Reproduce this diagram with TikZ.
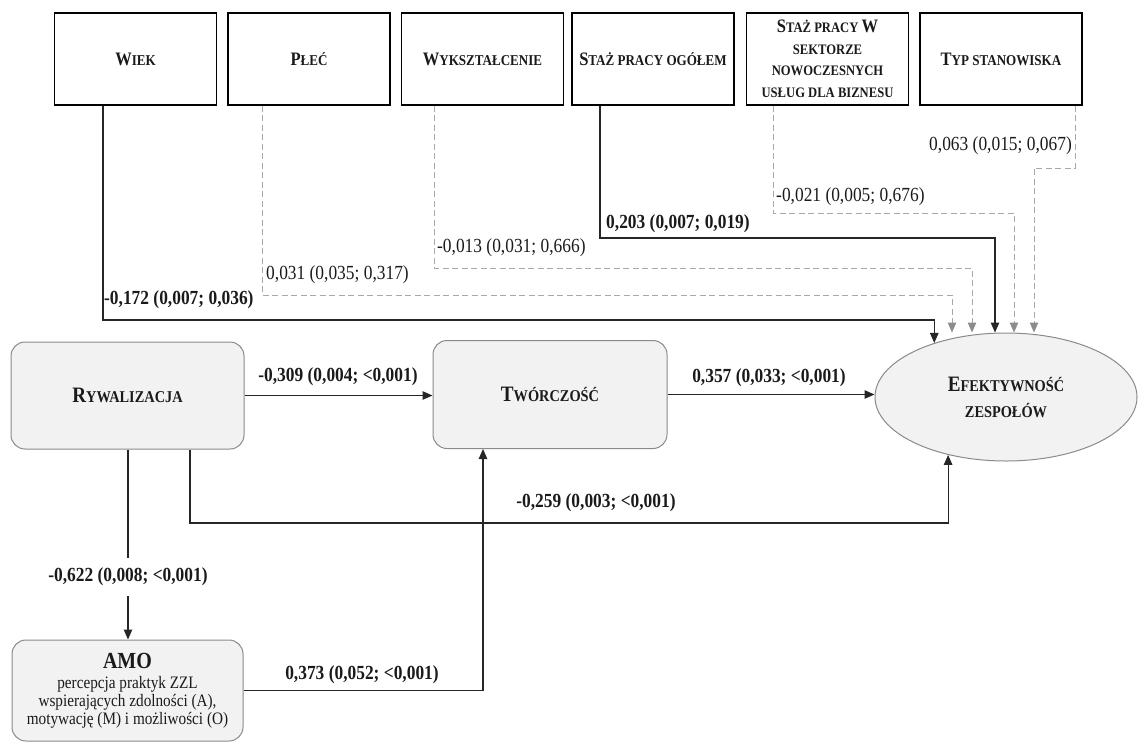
\documentclass[tikz,border=0pt]{standalone}
\usepackage{fontspec}
\setmainfont{Liberation Serif}[FakeStretch=0.87]
\usetikzlibrary{arrows.meta,shapes.geometric}
\definecolor{boxfill}{HTML}{F2F2F2}
\definecolor{rbord}{HTML}{8A8A8A}
\definecolor{dashc}{HTML}{A8A8A8}
\definecolor{dashtip}{HTML}{8C8C8C}
\definecolor{txt}{HTML}{1A1A1A}
\newcommand\capT[1]{{\fontsize{19}{19}\selectfont #1}}
\newcommand\capM[1]{{\fontsize{22}{22}\selectfont #1}}
\begin{document}
\begin{tikzpicture}[x=1pt,y=-1pt,
 topbox/.style={draw=black, line width=1.4pt, fill=white, minimum width=162pt, minimum height=92pt, inner sep=2pt, align=center, text=txt, font=\fontsize{15}{21.5}\selectfont\bfseries},
 rbox/.style={draw=rbord, line width=1pt, fill=boxfill, rounded corners=14pt, align=center, inner sep=2pt, text=txt},
 solidc/.style={draw=black!85, line width=1.1pt, -{Triangle[length=10pt,width=8.5pt]}},
 dashcn/.style={draw=dashc, line width=1pt, dash pattern=on 6pt off 3.5pt, -{Triangle[length=10pt,width=8.5pt,fill=dashtip,color=dashtip]}},
 lbl/.style={font=\fontsize{20}{22}\selectfont, inner sep=1pt, text=txt},
 blbl/.style={font=\fontsize{20}{22}\selectfont\bfseries, inner sep=1pt, text=txt},
]
\useasboundingbox (0,0) rectangle (1138,742);
% top boxes
\node[topbox] (wiek) at (135.5,59) {\capT{W}IEK};
\node[topbox] (plec) at (309,59) {\capT{P}ŁEĆ};
\node[topbox] (wyk) at (482.5,59) {\capT{W}YKSZTAŁCENIE};
\node[topbox] (stazo) at (653,59) {\capT{S}TAŻ PRACY OGÓŁEM};
\node[topbox, font=\fontsize{14.5}{21.5}\selectfont\bfseries] (stazs) at (827.5,59) {\capT{S}TAŻ PRACY \capT{W}\\SEKTORZE\\NOWOCZESNYCH\\USŁUG DLA BIZNESU};
\node[topbox] (typ) at (1001,59) {\capT{T}YP STANOWISKA};
% main nodes
\node[rbox, minimum width=233pt, minimum height=107pt, font=\fontsize{16.5}{26}\selectfont\bfseries] (ryw) at (127.5,395.5) {\capM{R}YWALIZACJA};
\node[rbox, minimum width=234pt, minimum height=108pt, font=\fontsize{16.5}{26}\selectfont\bfseries] (twor) at (550,394.5) {\capM{T}WÓRCZOŚĆ};
\node[draw=rbord, line width=1pt, fill=boxfill, ellipse, minimum width=262pt, minimum height=128pt, inner sep=0pt, align=center, text=txt, font=\fontsize{16.5}{26}\selectfont\bfseries] (eff) at (1006,397) {\capM{E}FEKTYWNOŚĆ\\ZESPOŁÓW};
\node[rbox, minimum width=231pt, minimum height=101pt, font=\fontsize{17.5}{18}\selectfont] (amo) at (127.5,690.5) {{\fontsize{23}{23}\selectfont\bfseries AMO}\\[2pt]percepcja praktyk ZZL\\wspierających zdolności (A),\\motywację (M) i możliwości (O)};
% control variables
\draw[solidc] (wiek.south -| 103,0) -- (103,320) -| (eff.143.4);
\node[blbl, anchor=west] (l1) at (103,300) {-0,172 (0,007; 0,036)};
\draw[dashcn] (plec.south -| 262,0) -- (262,295) -| (eff.north -| 952,0);
\node[lbl, anchor=west] (l2) at (265,275) {0,031 (0,035; 0,317)};
\draw[dashcn] (wyk.south -| 434,0) -- (434,268) -| (eff.north -| 972,0);
\node[lbl, anchor=west] (l3) at (436,248) {-0,013 (0,031; 0,666)};
\draw[solidc] (stazo.south -| 600,0) -- (600,238) -| (eff.north -| 995,0);
\node[blbl, anchor=west] (l4) at (605,224) {0,203 (0,007; 0,019)};
\draw[dashcn] (stazs.south -| 773,0) -- (773,213) -| (eff.north -| 1014,0);
\node[lbl, anchor=west] (l5) at (775,197) {-0,021 (0,005; 0,676)};
\draw[dashcn] (typ.south -| 1075,0) -- (1075,168) -| (eff.north -| 1034,0);
\node[lbl, anchor=east] (l6) at (1073,146) {0,063 (0,015; 0,067)};
% main paths
\draw[solidc] (ryw.east) -- (twor.west |- ryw.east);
\node[blbl] (l7) at (338,377) {-0,309 (0,004; <0,001)};
\draw[solidc] (twor.east) -- (eff.west |- twor.east);
\node[blbl] (l8) at (769,378) {0,357 (0,033; <0,001)};
\draw[solidc] (ryw.south -| 190,0) -- (190,523) -| (eff.225.9);
\node[blbl] (l9) at (596,503) {-0,259 (0,003; <0,001)};
\draw[solidc] (ryw.south -| 128,0) -- (amo.north -| 128,0) node[blbl, pos=0.67, fill=white, inner ysep=10pt] (l10) {-0,622 (0,008; <0,001)};
\draw[solidc] (amo.east) -| (twor.south -| 483,0);
\node[blbl] (l11) at (362,675) {0,373 (0,052; <0,001)};
\end{tikzpicture}
\end{document}
